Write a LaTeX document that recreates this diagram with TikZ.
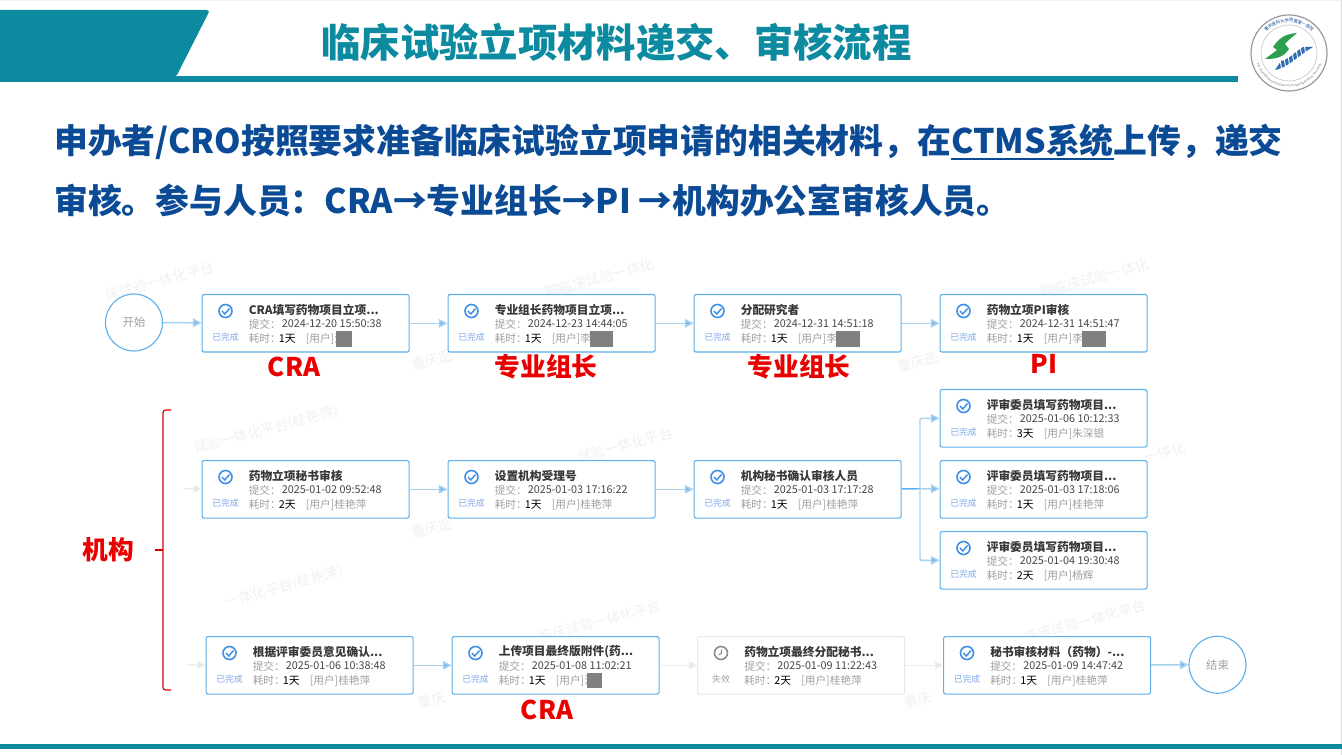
\documentclass[tikz,border=0pt]{standalone}
\usepackage{fontspec}
\setmainfont{Noto Sans CJK SC}
\usetikzlibrary{arrows.meta,decorations.text}
\definecolor{teal}{HTML}{0B8AA0}
\definecolor{navy}{HTML}{0B4A94}
\definecolor{cardblue}{HTML}{5FB0EA}
\definecolor{flowblue}{HTML}{A6D2F2}
\definecolor{tipblue}{HTML}{7FB8E6}
\definecolor{faint}{HTML}{EDEDED}
\definecolor{iconblue}{HTML}{3C90E8}
\definecolor{statusblue}{HTML}{7DA8E8}
\definecolor{labelgray}{HTML}{A0A0A0}
\definecolor{wmgray}{HTML}{F1F1F1}
\definecolor{logogreen}{HTML}{2E9E4F}
\definecolor{logoblue}{HTML}{2F6DB0}
\newcommand{\thickunder}[1]{\setbox0\hbox{#1}\rlap{\raisebox{-4.6pt}{\rule{\wd0}{1.6pt}}}\box0 }
\tikzset{
  cardbox/.style={draw=cardblue,line width=.85pt,rounded corners=1.5pt,fill=white,minimum width=207*.75pt,minimum height=57.5*.75pt,inner sep=0pt},
  deadbox/.style={cardbox,draw=black!9},
  cardtitle/.style={anchor=west,inner sep=0pt,font=\fontsize{8.8}{10}\bfseries\selectfont,text=black!78},
  cardsmall/.style={anchor=west,inner sep=0pt,font=\fontsize{8}{10}\selectfont,text=labelgray},
  carddark/.style={anchor=west,inner sep=0pt,font=\fontsize{8.1}{10}\selectfont,text=black!72},
  cardstatus/.style={inner sep=0pt,font=\fontsize{6.6}{8}\selectfont,text=statusblue},
  endcircle/.style={circle,draw=cardblue,line width=.85pt,fill=white,minimum size=57*.75pt,inner sep=0pt,font=\fontsize{8.5}{10}\selectfont,text=labelgray},
  flow/.style={draw=flowblue,line width=1.1pt,-{Triangle[length=6.5pt,width=6.5pt,fill=tipblue]}},
  flowfaint/.style={draw=faint,line width=.9pt,-{Triangle[length=6pt,width=6pt,fill=black!10]}},
  redlabel/.style={inner sep=0pt,text=red!92!black,font=\fontsize{19.3}{22}\bfseries\selectfont},
  body/.style={anchor=west,inner sep=0pt,text=navy,font=\fontsize{25.35}{30}\bfseries\selectfont},
  hide/.style={fill=black!50,draw=none},
  wm/.style={rotate=15,text=wmgray,inner sep=0pt,font=\fontsize{10.5}{13}\selectfont}
}
% name, x, y, title, date, days, user
\newcommand{\flowcard}[7]{%
  \begin{scope}[shift={(#2,#3)}]
    \node[cardbox,anchor=north west] (#1) at (0,0) {};
    \draw[iconblue,line width=1.2pt] (24,17) circle [x radius=6.5,y radius=6.5];
    \draw[iconblue,line width=1.1pt] (20.5,17) -- (23.3,20) -- (28,14.5);
    \node[cardstatus] (#1-s) at (24,43) {已完成};
    \node[cardtitle] (#1-t) at (47,16) {#4};
    \node[cardsmall] (#1-a) at (47,30) {提交：};
    \node[carddark] (#1-d) at (80,30) {#5};
    \node[cardsmall] (#1-b) at (47,44.5) {耗时：};
    \node[carddark,text=black] (#1-e) at (77,44.5) {#6};
    \node[cardsmall] (#1-u) at (104,44.5) {#7};
  \end{scope}}
\newcommand{\deadcard}[7]{%
  \begin{scope}[shift={(#2,#3)}]
    \node[deadbox,anchor=north west] (#1) at (0,0) {};
    \draw[black!45,line width=1.2pt] (24,17) circle [x radius=6.5,y radius=6.5];
    \draw[black!45,line width=.8pt] (24.5,13.5) -- (24.5,17.5) -- (21.5,19);
    \node[cardstatus,text=labelgray] (#1-s) at (24,43) {失效};
    \node[cardtitle] (#1-t) at (47,16) {#4};
    \node[cardsmall] (#1-a) at (47,30) {提交：};
    \node[carddark] (#1-d) at (80,30) {#5};
    \node[cardsmall] (#1-b) at (47,44.5) {耗时：};
    \node[carddark,text=black] (#1-e) at (77,44.5) {#6};
    \node[cardsmall] (#1-u) at (104,44.5) {#7};
  \end{scope}}
\begin{document}
\begin{tikzpicture}[x=.75pt,y=-.75pt]
\useasboundingbox (0,0) rectangle (1342,755);
\fill[white] (0,0) rectangle (1342,755);
\fill[black!18!blue!6!white] (0,0) rectangle (1342,1.5);
\fill[black!14] (1340.5,0) rectangle (1342,755);
% header
\begin{scope}
\clip (0,0) rectangle (1342,755);
\fill[teal,rounded corners=2.5pt] (-6,10) -- (210,10) -- (176,77) -- (-6,77) -- cycle;
\end{scope}
\fill[teal] (0,76.5) rectangle (1238,82);
\fill[teal] (0,743.5) rectangle (1342,749);
\node[inner sep=0pt,text=teal,font=\fontsize{29.5}{34}\bfseries\selectfont] (title) at (616.5,42) {临床试验立项材料递交、审核流程};
% logo
\draw[black!40,line width=.9pt,fill=white] (1289,53) circle [x radius=38,y radius=38];
\draw[black!25,line width=.4pt] (1289,53) circle [x radius=28,y radius=28];
\fill[logogreen] (1297,33) .. controls (1285,34) and (1279,38) .. (1273,47) -- (1277,50) -- (1265,59) .. controls (1275,59) and (1283,58) .. (1289,49) -- (1285,44) .. controls (1289,39) and (1293,37) .. (1297,33) -- cycle;
\fill[logoblue] (1275,70) .. controls (1288,68) and (1300,54) .. (1313,47) -- (1303,47) .. controls (1295,52) and (1288,60) .. (1281,61) -- cycle;
\foreach \a/\b in {1280/60,1284/58,1288/56,1292/52,1296/49,1300/46,1304/44}{
  \draw[white,line width=.7pt] (\a,\b) -- ++(2.5,14);
}
\path[decorate,decoration={text along path,text align=center,text={|\fontsize{3.2}{4}\selectfont\color{navy}|重庆医科大学附属第一医院}}] (1258,53) arc [start angle=180,end angle=360,x radius=31,y radius=31];
\path[decorate,decoration={text along path,text align=center,text={|\fontsize{2.3}{3}\selectfont\color{black!55}|The First Affiliated Hospital of Chongqing Medical University}}] (1255,53) arc [start angle=180,end angle=0,x radius=34,y radius=34];
% body
\node[body] (line1) at (54,142) {申办者/CRO按照要求准备临床试验立项申请的相关材料，在\thickunder{CTMS系统}上传，递交};
\node[body] (line2) at (54,201) {审核。参与人员：CRA→专业组长→PI →机构办公室审核人员。};
% watermark pieces that show between the cards
\node[wm] (w1) at (160,281) {床试验一体化平台};
\node[wm] (w2) at (266,430) {试验一体化平台(桂艳萍)};
\node[wm] (w3) at (284,587) {一体化平台(桂艳萍)};
\node[wm] (w4) at (600,278) {院临床试验一体化};
\node[wm] (w5) at (1095,278) {院临床试验一体化};
\node[wm] (w6) at (625,445) {试验一体化平台};
\node[wm] (w7) at (1165,452) {一体化};
\node[wm] (w8) at (600,621) {临床试验一体化平台};
\node[wm] (w9) at (1085,621) {临床试验一体化平台};
\node[wm] (w10) at (432,360) {重庆医};
\node[wm] (w11) at (918,362) {重庆医};
\node[wm] (w12) at (432,528) {重庆医};
\node[wm] (w13) at (432,700) {重庆};
\node[wm] (w14) at (918,700) {重庆};
% cards
\node[endcircle] (start) at (134,322.5) {开始};
\flowcard{a1}{201.5}{294}{CRA填写药物项目立项...}{2024-12-20 15:50:38}{1天}{[用户]汪}
\flowcard{a2}{447.5}{294}{专业组长药物项目立项...}{2024-12-23 14:44:05}{1天}{[用户]李}
\flowcard{a3}{693.5}{294}{分配研究者}{2024-12-31 14:51:18}{1天}{[用户]李}
\flowcard{a4}{939.5}{294}{药物立项PI审核}{2024-12-31 14:51:47}{1天}{[用户]李}
\flowcard{b1}{201.5}{460}{药物立项秘书审核}{2025-01-02 09:52:48}{2天}{[用户]桂艳萍}
\flowcard{b2}{447.5}{460}{设置机构受理号}{2025-01-03 17:16:22}{1天}{[用户]桂艳萍}
\flowcard{b3}{693.5}{460}{机构秘书确认审核人员}{2025-01-03 17:17:28}{1天}{[用户]桂艳萍}
\flowcard{r1}{939.5}{389}{评审委员填写药物项目...}{2025-01-06 10:12:33}{3天}{[用户]朱深银}
\flowcard{r2}{939.5}{460}{评审委员填写药物项目...}{2025-01-03 17:18:06}{1天}{[用户]桂艳萍}
\flowcard{r3}{939.5}{531}{评审委员填写药物项目...}{2025-01-04 19:30:48}{2天}{[用户]杨辉}
\flowcard{c1}{205.5}{636}{根据评审委员意见确认...}{2025-01-06 10:38:48}{1天}{[用户]桂艳萍}
\flowcard{c2}{451.5}{636}{上传项目最终版附件(药...}{2025-01-08 11:02:21}{1天}{[用户]汪}
\deadcard{c3}{697}{636}{药物立项最终分配秘书...}{2025-01-09 11:22:43}{2天}{[用户]桂艳萍}
\flowcard{c4}{943}{636}{秘书审核材料（药物）-...}{2025-01-09 14:47:42}{1天}{[用户]桂艳萍}
\node[endcircle] (end) at (1217.5,664.75) {结束};
% redactions
\fill[hide] (336,331) rectangle (352,347);
\fill[hide] (590,331) rectangle (613,347);
\fill[hide] (836,331) rectangle (860,347);
\fill[hide] (1082,331) rectangle (1106,347);
\fill[hide] (587,673) rectangle (602,688);
% connectors
\draw[flow] (start) -- (a1);
\draw[flow] (a1) -- (a2);
\draw[flow] (a2) -- (a3);
\draw[flow] (a3) -- (a4);
\coordinate (bin) at (183,488.75);
\coordinate (cin) at (187,664.75);
\draw[flowfaint] (bin) -- (b1);
\draw[flow] (b1) -- (b2);
\draw[flow] (b2) -- (b3);
\coordinate (fork) at (920,488.75);
\draw[cardblue,line width=1.1pt] (b3) -- (fork);
\draw[flow,rounded corners=1pt] (fork) |- (r1);
\draw[flow] (fork) -- (r2);
\draw[flow,rounded corners=1pt] (fork) |- (r3);
\draw[flowfaint] (cin) -- (c1);
\draw[flow] (c1) -- (c2);
\draw[flowfaint] (c2) -- (c3);
\draw[flowfaint] (c3) -- (c4);
\draw[flow] (c4) -- (end);
% red labels
\node[redlabel] (l1) at (294,367) {CRA};
\node[redlabel] (l2) at (546,367) {专业组长};
\node[redlabel] (l3) at (799,367) {专业组长};
\node[redlabel] (l4) at (1044,364) {PI};
\node[redlabel] (l5) at (547,710) {CRA};
\node[redlabel] (l6) at (108,550) {机构};
\draw[red!85!black,line width=.9pt,rounded corners=2pt] (171,410) -- (163,410) -- (163,690) -- (171,690);
\draw[red!85!black,line width=.9pt] (155,550) -- (163,550);
\end{tikzpicture}
\end{document}
